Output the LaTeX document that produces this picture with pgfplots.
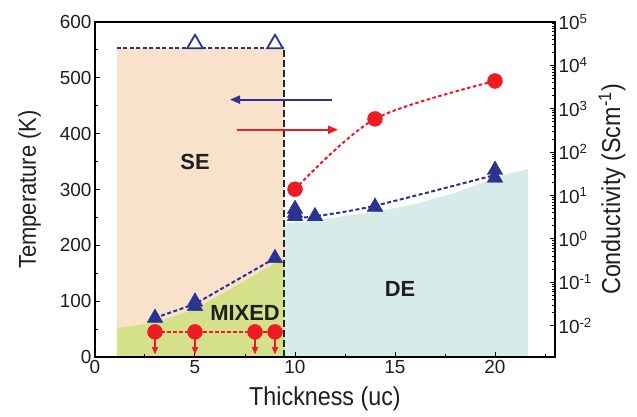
\documentclass[border=0pt]{standalone}
\usepackage{pgfplots}
\pgfplotsset{compat=1.18}
\usepackage{fontspec}
\setmainfont{Liberation Sans}
\newfontfamily\labelfont[FakeStretch=0.9]{Liberation Sans}
\usetikzlibrary{arrows.meta,calc}

\definecolor{peach}{HTML}{F8E2CC}
\definecolor{mixgreen}{HTML}{D4E18A}
\definecolor{decyan}{HTML}{D7EBE9}
\definecolor{navy}{HTML}{2B3391}
\definecolor{cred}{HTML}{ED1C24}

\pgfplotsset{
  base/.style={
    scale only axis, width=460bp, height=335bp,
    xmin=0, xmax=23,
    /pgf/number format/assume math mode=true,
    tick label style={font=\fontsize{19}{19}\selectfont, color=black!88},
    label style={font=\labelfont\fontsize{26}{26}\selectfont, color=black!88},
    major tick length=5bp, minor tick length=3bp,
    axis line style={line width=1.2bp},
    tick style={line width=1bp, black},
  },
  bdash/.style={navy, line width=2bp, dash pattern=on 4bp off 2.5bp},
  rdash/.style={cred, line width=2bp, dash pattern=on 3.5bp off 2.5bp},
}

\begin{document}
\begin{tikzpicture}
\begin{axis}[base, name=a,
    ymin=0, ymax=600,
    xtick={0,5,...,20}, minor xtick={2.5,7.5,...,22.5},
    ytick={0,100,...,600}, minor y tick num=1,
    xtick pos=bottom, ytick pos=left,
    xlabel={Thickness (uc)}, ylabel={Temperature (K)},
    ylabel style={font=\labelfont\fontsize{24.5}{24.5}\selectfont},
    ylabel shift=12bp, xlabel shift=6bp,
    axis on top]
  % phase regions
  \addplot[draw=none, fill=peach] coordinates {(1.1,0)(1.1,553)(9.45,553)(9.45,0)} \closedcycle;
  \addplot[draw=none, fill=mixgreen] coordinates {(1.1,0)(1.1,52)(3,62)(5,85)(9,168)(9.45,168)(9.45,0)} \closedcycle;
  \addplot[draw=none, fill=decyan] coordinates {(9.45,0)(9.45,239)(11,245)(14,260)(16,274)(18,294)(19.5,314)(20.5,327)(21.65,336)(21.65,0)} \closedcycle;
  \addplot[black!85, line width=1.8bp, dash pattern=on 7bp off 3bp] coordinates {(9.45,0)(9.45,553)};
  % temperature
  \addplot[bdash] coordinates {(1.1,553)(9.45,553)};
  \addplot[only marks, mark=triangle*, mark size=9bp, mark options={draw=navy, fill=white, line width=1.8bp}] coordinates {(5,561)(9,561)};
  \addplot[bdash] coordinates {(3,70)(5,95)(9,177)};
  \addplot[bdash, smooth] coordinates {(9.8,249)(11,252)(14,271)(20,326)};
  \addplot[only marks, mark=triangle*, mark size=9bp, navy] coordinates {
    (3,70)(5,91)(5,99)(9,177)(10,252)(10,258)(10,265)(11,252)(14,269)(20,321)(20,335)};
  % arrows
  \draw[navy, line width=2bp, -{Triangle[length=10bp,width=8bp]}] (axis cs:11.85,461) -- (axis cs:6.75,461);
  \draw[cred, line width=2bp, -{Triangle[length=10bp,width=8bp]}] (axis cs:7.1,407) -- (axis cs:12.15,407);
  % labels
  \node[font=\bfseries\fontsize{22}{22}\selectfont, black!88] at (axis cs:5,350) {SE};
  \node[font=\bfseries\fontsize{22}{22}\selectfont, black!88] at (axis cs:7.5,79) {MIXED};
  \node[font=\bfseries\fontsize{22}{22}\selectfont, black!88] at (axis cs:15.25,122) {DE};
\end{axis}
\begin{axis}[base,
    ymode=log, ymin=0.0019, ymax=1e5,
    axis x line=none, axis y line*=right,
    ytick={1e-2,1e-1,1,1e1,1e2,1e3,1e4,1e5},
    yticklabels={10\textsuperscript{-2},10\textsuperscript{-1},10\textsuperscript{0},10\textsuperscript{1},10\textsuperscript{2},10\textsuperscript{3},10\textsuperscript{4},10\textsuperscript{5}},
    ylabel={Conductivity (Scm\textsuperscript{-1})}]
  \addplot[rdash, smooth] coordinates {(10,14)(14,585)(20,4370)};
  \addplot[rdash] coordinates {(3,0.0072)(9,0.0072)};
  \foreach \xx in {3,5,8,9} {
    \edef\tmp{\noexpand\draw[cred, line width=1.4bp, -{Triangle[length=7bp,width=6bp]}] (axis cs:\xx,0.0072) -- (axis cs:\xx,0.0022);}
    \tmp
  }
  \addplot[only marks, mark=*, mark size=7.5bp, cred] coordinates {(10,14)(14,585)(20,4370)};
  \addplot[only marks, mark=*, mark size=7.5bp, cred] coordinates {(3,0.0072)(5,0.0072)(8,0.0072)(9,0.0072)};
\end{axis}
\pgfresetboundingbox
\path ($(a.south west)+(-95bp,-60bp)$) rectangle ($(a.north east)+(82bp,22bp)$);
\end{tikzpicture}
\end{document}
